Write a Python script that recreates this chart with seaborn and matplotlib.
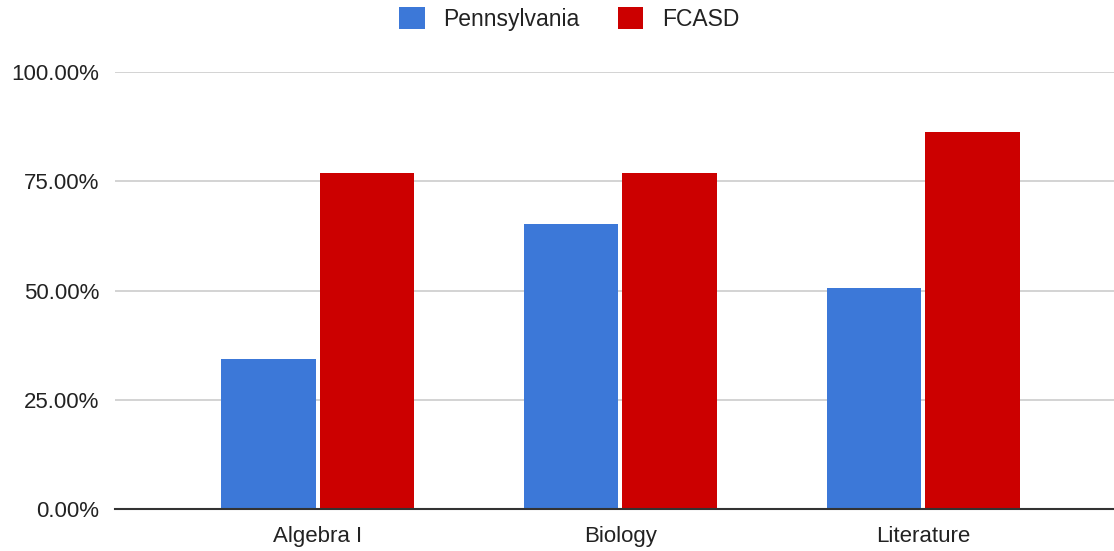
import pandas as pd
import seaborn as sns
import matplotlib.pyplot as plt
from matplotlib.patches import Patch
from matplotlib.ticker import FuncFormatter

# data (percent)
subjects = ['Algebra I', 'Biology', 'Literature']
pennsylvania = [34.3, 65.2, 50.6]
fcasd = [77.0, 77.0, 86.2]
series = ['Pennsylvania', 'FCASD']
colors = {'Pennsylvania': '#3c78d8', 'FCASD': '#cc0000'}

df = pd.DataFrame({
    'subject': subjects * 2,
    'group': ['Pennsylvania'] * 3 + ['FCASD'] * 3,
    'value': pennsylvania + fcasd,
})

sns.set_theme(style='white')
plt.rcParams['font.family'] = ['Liberation Sans', 'DejaVu Sans']

fig = plt.figure(figsize=(11.14, 5.51), dpi=100)
ax = fig.add_axes([0.103, 0.0762, 0.897, 0.7931])

sns.barplot(data=df, x='subject', y='value', hue='group', hue_order=series,
            palette=colors, width=0.65, gap=0.04, saturation=1, ax=ax,
            legend=False, linewidth=0)

ax.set_ylim(0, 100)
ax.set_xlim(-0.67, 2.63)
ax.set_yticks([0, 25, 50, 75, 100])
ax.yaxis.set_major_formatter(FuncFormatter(lambda v, p: f'{v:.2f}%'))
ax.grid(axis='y', color='#cccccc', linewidth=1.2)
ax.set_axisbelow(True)
ax.set_xlabel('')
ax.set_ylabel('')
for s in ['top', 'right', 'left']:
    ax.spines[s].set_visible(False)
ax.spines['bottom'].set_color('#333333')
ax.spines['bottom'].set_linewidth(1.5)
ax.tick_params(axis='y', length=0, pad=11, labelsize=16, labelcolor='#222222')
ax.tick_params(axis='x', length=0, pad=12, labelsize=16, labelcolor='#222222')

handles = [Patch(facecolor=colors[s], edgecolor='none') for s in series]
fig.legend(handles, series, loc='center', bbox_to_anchor=(0.511, 0.965), ncol=2,
           frameon=False, fontsize=16.5, handlelength=1.1, handleheight=1.1,
           handletextpad=0.8, columnspacing=1.7, labelcolor='#222222')

fig.savefig('out.png', dpi=100)
